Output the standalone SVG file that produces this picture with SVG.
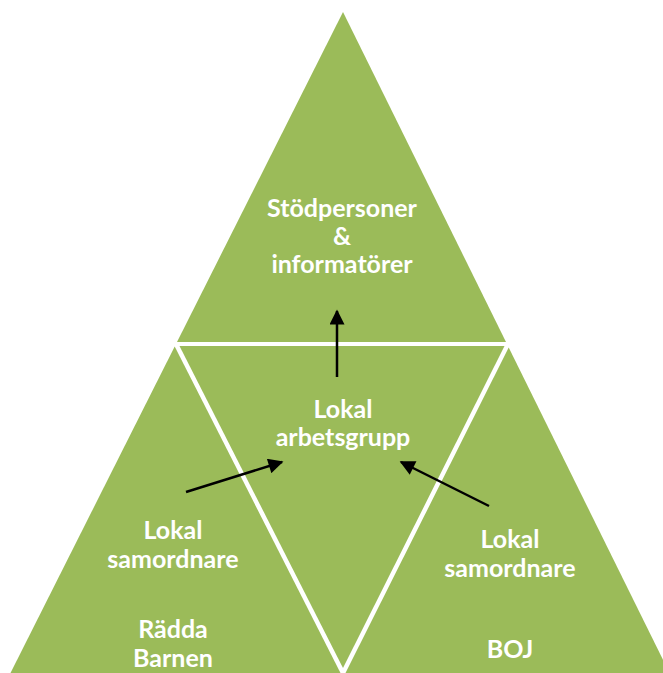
<svg xmlns="http://www.w3.org/2000/svg" width="663" height="673" viewBox="0 0 663 673">
  <style>
    .tri { fill: #9BBB59; }
    .lbl { fill: #FFFFFF; font-family: "Lato", "Liberation Sans", sans-serif; font-weight: bold; font-size: 25px; text-anchor: middle; }
    .arrow { stroke: #000000; stroke-width: 2.5; fill: none; marker-end: url(#ah); }
  </style>
  <defs>
    <marker id="ah" viewBox="0 0 10 10" refX="9" refY="5" markerWidth="6.5" markerHeight="6" markerUnits="strokeWidth" orient="auto">
      <path d="M0,0 L10,5 L0,10 Z" fill="#000000"/>
    </marker>
  </defs>
  <rect width="663" height="673" fill="#FFFFFF"/>

  <g id="node-top">
    <polygon class="tri" points="343,12 177,342 506,342"/>
    <text class="lbl" x="342" y="217">Stödpersoner</text>
    <text class="lbl" x="342" y="245">&amp;</text>
    <text class="lbl" x="342" y="273">informatörer</text>
  </g>

  <g id="node-middle">
    <polygon class="tri" points="179.5,346 504.5,346 343,668"/>
    <text class="lbl" x="343" y="418">Lokal</text>
    <text class="lbl" x="343" y="446">arbetsgrupp</text>
  </g>

  <g id="node-left">
    <polygon class="tri" points="174.7,346.5 340.5,673 10.5,673"/>
    <text class="lbl" x="173" y="539">Lokal</text>
    <text class="lbl" x="173" y="568">samordnare</text>
    <text class="lbl" x="173" y="638">Rädda</text>
    <text class="lbl" x="173" y="667">Barnen</text>
  </g>

  <g id="node-right">
    <polygon class="tri" points="508.7,347.5 669.5,673 345.5,673"/>
    <text class="lbl" x="510" y="548">Lokal</text>
    <text class="lbl" x="510" y="577">samordnare</text>
    <text class="lbl" x="510" y="658">BOJ</text>
  </g>

  <g id="connectors">
    <line class="arrow" x1="337" y1="377" x2="337" y2="311"/>
    <line class="arrow" x1="186" y1="492" x2="282" y2="462"/>
    <line class="arrow" x1="489" y1="506" x2="401" y2="462"/>
  </g>
</svg>
